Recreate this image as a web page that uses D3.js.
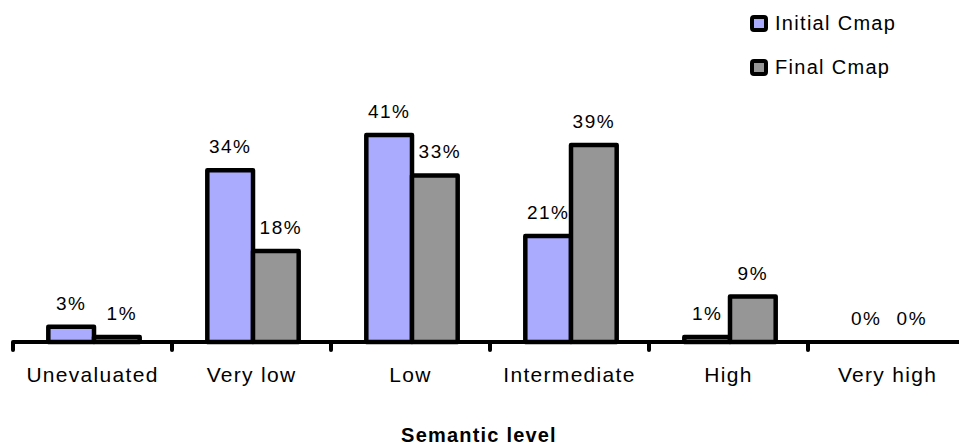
<!DOCTYPE html>
<html>
<head>
<meta charset="utf-8">
<script src="https://cdn.jsdelivr.net/npm/d3@7"></script>
<style>
  html, body { margin: 0; padding: 0; background: #fff; }
  svg { display: block; font-family: "Liberation Sans", Arial, sans-serif; }
</style>
</head>
<body>
<svg id="chart" width="959" height="446"></svg>
<script>
// Share of concept maps at each semantic level
const categories = ["Unevaluated", "Very low", "Low", "Intermediate", "High", "Very high"];
const seriesNames = ["Initial Cmap", "Final Cmap"];
const initialValues = [3, 34, 41, 21, 1, 0];
const finalValues = [1, 18, 33, 39, 9, 0];
const seriesColors = ["#aaaaff", "#969696"];
const axisTitle = "Semantic level";

const svg = d3.select("#chart");
const baseY = 342;

const x = d3.scaleBand().domain(categories).range([13, 967]).paddingInner(0).paddingOuter(0);
const xs = d3.scaleBand().domain(seriesNames).range([1.5, x.bandwidth() + 1.5]).paddingInner(0).paddingOuter(0.74);
const y = d3.scaleLinear().domain([0, 41]).range([baseY, 135]);

const series = seriesNames.map((name, i) => ({
  name, color: seriesColors[i],
  values: categories.map((c, j) => ({ cat: c, v: i === 0 ? initialValues[j] : finalValues[j] }))
}));

// bars
const groups = svg.append("g").selectAll("g").data(series).join("g");
groups.selectAll("rect").data(d => d.values.map(v => ({ ...v, name: d.name, color: d.color })))
  .join("rect")
  .filter(d => d.v > 0)
  .attr("x", d => x(d.cat) + xs(d.name))
  .attr("width", xs.bandwidth())
  .attr("y", d => y(d.v))
  .attr("height", d => baseY - y(d.v))
  .attr("fill", d => d.color)
  .attr("stroke", "#000")
  .attr("stroke-width", 4.5)
  .attr("stroke-linejoin", "round");

// value labels; a shorter neighbour's label is nudged clear of the taller bar beside it
groups.selectAll("text").data((d, si) => d.values.map((v, j) => ({ ...v, name: d.name, si, j })))
  .join("text")
  .attr("x", d => {
    const cx = x(d.cat) + xs(d.name) + xs.bandwidth() / 2;
    const nudge = d.si === 1 && initialValues[d.j] > finalValues[d.j] ? 5 : 0;
    return cx + nudge;
  })
  .attr("y", d => y(d.v) - 17)
  .attr("text-anchor", "middle")
  .attr("font-size", 19)
  .attr("letter-spacing", 1.5)
  .attr("fill", "#000")
  .text(d => d.v + "%");

// x axis
const axis = d3.axisBottom(x).tickSize(0).tickPadding(25);
const gx = svg.append("g").attr("transform", `translate(0,${baseY})`).call(axis);
gx.select(".domain").attr("stroke", "#000").attr("stroke-width", 4).attr("d", "M13,0H967");
gx.selectAll(".tick text").attr("font-size", 21).attr("letter-spacing", 1.3)
  .attr("font-family", "Liberation Sans, Arial, sans-serif").attr("fill", "#000");

// category boundary ticks
const bounds = categories.map(c => x(c));
svg.append("g").selectAll("line").data(bounds).join("line")
  .attr("x1", d => d).attr("x2", d => d)
  .attr("y1", baseY).attr("y2", baseY + 8)
  .attr("stroke", "#000").attr("stroke-width", 4).attr("stroke-linecap", "round");

// axis title
svg.append("text")
  .attr("x", 479).attr("y", 442)
  .attr("text-anchor", "middle")
  .attr("font-size", 20).attr("font-weight", "bold").attr("letter-spacing", 1.2)
  .text(axisTitle);

// legend
const legend = svg.append("g").selectAll("g").data(series).join("g")
  .attr("transform", (d, i) => `translate(752,${17 + i * 44})`);
legend.append("rect")
  .attr("x", 0).attr("y", 0).attr("width", 14).attr("height", 13)
  .attr("rx", 2)
  .attr("fill", d => d.color).attr("stroke", "#000").attr("stroke-width", 4)
  .attr("stroke-linejoin", "round");
legend.append("text")
  .attr("x", 23).attr("y", 13)
  .attr("font-size", 20).attr("letter-spacing", 1.3)
  .text(d => d.name);
</script>
</body>
</html>
